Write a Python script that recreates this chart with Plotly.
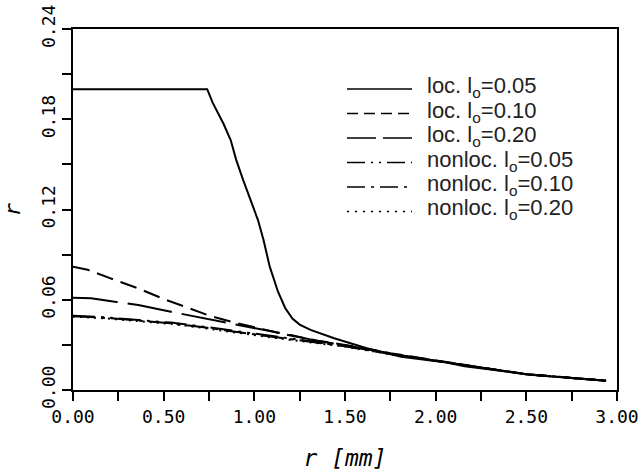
import plotly.graph_objects as go

# ---------------- data ----------------
r_loc05 = [0.00, 0.74, 0.77, 0.80, 0.83, 0.87, 0.90, 0.94, 0.98, 1.02, 1.05, 1.085, 1.13, 1.17,
           1.21, 1.25, 1.31, 1.44, 1.62, 1.81, 2.06, 2.16, 2.52, 2.75, 2.94]
f_loc05 = [0.200, 0.200, 0.191, 0.184, 0.177, 0.166, 0.153, 0.139, 0.126, 0.113, 0.100, 0.082,
           0.0655, 0.0545, 0.0475, 0.0435, 0.0400, 0.0344, 0.0277, 0.0221, 0.0182, 0.0158,
           0.0102, 0.0080, 0.0062]

r_loc10 = [0.00, 0.08, 0.20, 0.35, 0.50, 0.65, 0.75, 0.90, 1.05, 1.20, 1.35, 1.50, 1.75,
           2.00, 2.25, 2.50, 2.75, 2.94]
f_loc10 = [0.082, 0.080, 0.0745, 0.068, 0.0605, 0.054, 0.0495, 0.0445, 0.0405, 0.0362, 0.0328,
           0.0300, 0.0245, 0.0195, 0.0150, 0.0105, 0.0080, 0.0062]

r_loc20 = [0.00, 0.10, 0.23, 0.36, 0.54, 0.72, 0.90, 1.05, 1.20, 1.35, 1.50, 1.75, 2.00,
           2.25, 2.50, 2.75, 2.94]
f_loc20 = [0.0614, 0.0610, 0.0587, 0.0565, 0.0520, 0.0476, 0.0432, 0.0400, 0.0365, 0.0325,
           0.0298, 0.0243, 0.0195, 0.0150, 0.0105, 0.0080, 0.0062]

r_nl = [0.00, 0.17, 0.36, 0.54, 0.72, 0.90, 1.09, 1.20, 1.35, 1.50, 1.75, 2.00, 2.25, 2.50,
        2.75, 2.94]
f_nl05 = [0.0494, 0.0483, 0.0465, 0.0448, 0.0421, 0.0390, 0.0360, 0.0342, 0.0318, 0.0293,
          0.0240, 0.0193, 0.0149, 0.0105, 0.0080, 0.0062]
f_nl10 = [0.0490, 0.0480, 0.0462, 0.0444, 0.0417, 0.0385, 0.0355, 0.0338, 0.0315, 0.0291,
          0.0239, 0.0192, 0.0149, 0.0105, 0.0080, 0.0062]
f_nl20 = [0.0488, 0.0477, 0.0458, 0.0440, 0.0412, 0.0380, 0.0350, 0.0333, 0.0312, 0.0289,
          0.0238, 0.0191, 0.0148, 0.0105, 0.0080, 0.0062]

labels = ["loc. l<sub>o</sub>=0.05", "loc. l<sub>o</sub>=0.10", "loc. l<sub>o</sub>=0.20",
          "nonloc. l<sub>o</sub>=0.05", "nonloc. l<sub>o</sub>=0.10", "nonloc. l<sub>o</sub>=0.20"]

x_ticks = [0.0, 0.5, 1.0, 1.5, 2.0, 2.5, 3.0]
y_ticks = [0.00, 0.06, 0.12, 0.18, 0.24]

# ---------------- styles ----------------
series = [
    (r_loc05, f_loc05, "solid", "solid"),
    (r_loc10, f_loc10, "17px,8px", "11px,6px"),
    (r_loc20, f_loc20, "45px,10px", "29px,7px"),
    (r_nl, f_nl05, "22px,6px,3px,6px,3px,6px", "18px,6px,2px,6px,2px,6px"),
    (r_nl, f_nl10, "22px,6px,4px,6px", "18px,6px,3px,6px"),
    (r_nl, f_nl20, "2px,5px", "2px,6px"),
]

W, H = 642, 471
ML, MR, MT, MB = 73, 25, 29, 81
PW, PH = W - ML - MR, H - MT - MB

fig = go.Figure()
for xs, ys, dash, _ in series:
    fig.add_trace(go.Scatter(x=xs, y=ys, mode="lines", showlegend=False, cliponaxis=False,
                             hoverinfo="skip",
                             line=dict(color="black", width=2, dash=dash)))

# manual legend (line samples + texts)
row_y = [89, 113.5, 138, 162.5, 187, 211.5]
shapes = []
annotations = []
for i, (_, _, _, ldash) in enumerate(series):
    yp = (H - MB - row_y[i]) / PH
    shapes.append(dict(type="line", xref="paper", yref="paper",
                       x0=(347 - ML) / PW, x1=(412 - ML) / PW, y0=yp, y1=yp,
                       line=dict(color="black", width=1.6, dash=ldash)))
    annotations.append(dict(xref="paper", yref="paper", x=(425 - ML) / PW, y=yp,
                            xanchor="left", yanchor="middle", showarrow=False,
                            text=labels[i], yshift=2,
                            font=dict(family="Liberation Sans", size=22, color="#222")))

tickfont = dict(family="DejaVu Sans Mono", size=18, color="black")
fig.update_layout(
    width=W, height=H,
    margin=dict(l=ML, r=MR, t=MT, b=MB),
    plot_bgcolor="white", paper_bgcolor="white",
    shapes=shapes, annotations=annotations,
    xaxis=dict(range=[0, 3.0], tickvals=x_ticks, tickformat=".2f", automargin=False,
               showgrid=False, zeroline=False, showline=True, linecolor="black",
               linewidth=2, mirror=True, ticks="outside", ticklen=9, tickwidth=1.5,
               tickcolor="black", tickfont=tickfont,
               minor=dict(dtick=0.25, ticks="outside", ticklen=9, tickwidth=1.5,
                          tickcolor="black", showgrid=False),
               title=dict(text="<i>r [mm]</i>", standoff=24,
                          font=dict(family="DejaVu Sans Mono", size=23, color="black"))),
    yaxis=dict(range=[0, 0.24], tickvals=y_ticks, tickformat=".2f", tickangle=-90,
               automargin=False,
               showgrid=False, zeroline=False, showline=True, linecolor="black",
               linewidth=2, mirror=True, ticks="outside", ticklen=9, tickwidth=1.5,
               tickcolor="black", tickfont=tickfont,
               minor=dict(dtick=0.03, ticks="outside", ticklen=9, tickwidth=1.5,
                          tickcolor="black", showgrid=False),
               title=dict(text="<i>r</i>", standoff=12,
                          font=dict(family="DejaVu Sans Mono", size=22, color="black"))),
)

fig.write_html("out.html", config={"displayModeBar": False},
               post_script="document.body.style.margin='0';document.body.style.overflow='hidden';")
